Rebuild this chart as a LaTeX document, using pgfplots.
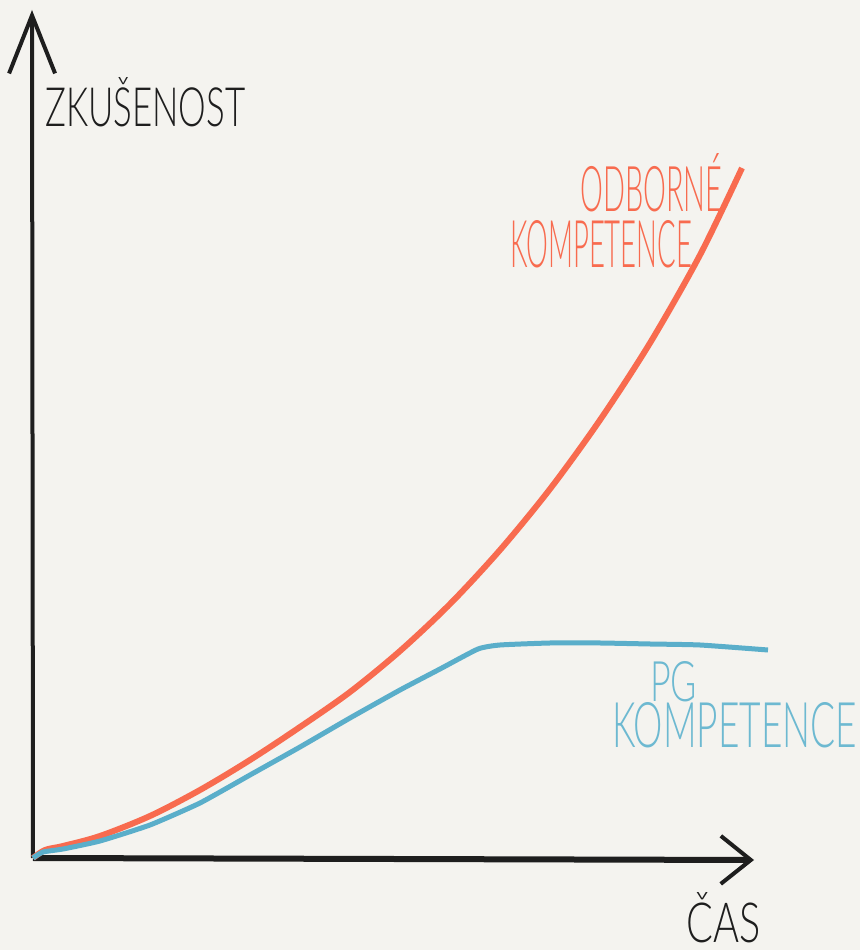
\documentclass[border=0pt]{standalone}
\usepackage{fontspec}
\usepackage{graphicx}
\usepackage{pgfplots}
\pgfplotsset{compat=1.18}
\usetikzlibrary{arrows.meta}
\newfontfamily\hand{Lato Light}
\definecolor{bg}{HTML}{F4F3EF}
\definecolor{cred}{HTML}{F86B4F}
\definecolor{cblue}{HTML}{5AAECA}
\definecolor{tblue}{HTML}{6DB9D1}
\definecolor{ink}{HTML}{1E1E1E}
\newcommand{\hw}[3]{\resizebox{#1bp}{#2bp}{\hand #3}}
\begin{document}
\begin{tikzpicture}
\begin{axis}[scale only axis, width=860bp, height=950bp,
  xmin=0, xmax=860, ymin=0, ymax=950, axis lines=none, clip=false]
\addplot[fill=bg, draw=none] coordinates {(0,0) (860,0) (860,950) (0,950)} -- cycle;
% axes
\addplot[ink, line width=6bp, -{Straight Barb[length=30bp, width=48bp, line width=4bp]}] coordinates {(33,92) (754,90)};
\addplot[ink, line width=4bp, -{Straight Barb[length=58bp, width=46bp, line width=4bp]}] coordinates {(33,92) (32,940)};
% curves
\addplot[cred, line width=6bp, smooth, tension=0.5] coordinates {
(33,92) (45,100) (63,104) (100,114) (150,134) (200,160) (250,190) (300,223) (350,258) (400,299) (450,346) (500,400) (550,461) (600,530) (650,607) (700,695) (742,782)};
\addplot[cblue, line width=5bp, smooth, tension=0.3] coordinates {
(33,92) (43,98) (63,101) (100,109) (150,125) (200,147) (250,175) (300,203) (350,232) (400,260) (440,281) (478,301) (500,305) (550,307) (600,307) (650,306) (700,305) (768,300)};
% labels
\node[anchor=base west, inner sep=0, ink] at (axis cs:45,823) {\hw{200}{49}{ZKUŠENOST}};
\node[anchor=base west, inner sep=0, text=cred] at (axis cs:580,738) {\hw{142}{58}{ODBORNÉ}};
\node[anchor=base west, inner sep=0, text=cred] at (axis cs:510,682) {\hw{182}{47}{KOMPETENCE}};
\node[anchor=base west, inner sep=0, text=tblue] at (axis cs:650,248) {\hw{47}{40}{PG}};
\node[anchor=base west, inner sep=0, text=tblue] at (axis cs:612,202) {\hw{245}{45}{KOMPETENCE}};
\node[anchor=base west, inner sep=0, ink] at (axis cs:686,7) {\hw{74}{50}{ČAS}};
\end{axis}
\end{tikzpicture}
\end{document}
